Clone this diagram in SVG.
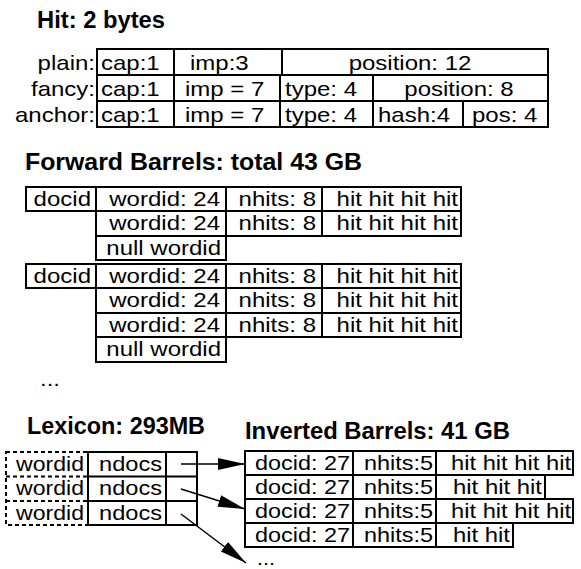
<svg xmlns="http://www.w3.org/2000/svg" width="581" height="569" viewBox="0 0 581 569">
<style>
.c{fill:none;stroke:#000;stroke-width:2}
.d{fill:none;stroke:#000;stroke-width:2;stroke-dasharray:4 3}
.t{font-family:"Liberation Sans",Arial,Helvetica,sans-serif;font-size:20.8px;fill:#000}
.e{text-anchor:end}
.m{text-anchor:middle}
.h{font-family:"Liberation Sans",Arial,Helvetica,sans-serif;font-size:23px;font-weight:bold;fill:#000}
.a{fill:none;stroke:#000;stroke-width:1.5}
</style>
<defs>
<marker id="ah" markerUnits="userSpaceOnUse" markerWidth="28" markerHeight="14" refX="27" refY="7" orient="auto">
<path d="M0,1 L27,7 L0,13 z" fill="#000"/>
</marker>
</defs>
<rect width="581" height="569" fill="#fff"/>

<g id="hit">
<text class="h" x="37" y="28" textLength="128" lengthAdjust="spacingAndGlyphs">Hit: 2 bytes</text>
<g id="hit-plain">
<text class="t e" x="95" y="70" textLength="57.4" lengthAdjust="spacingAndGlyphs">plain:</text>
<rect class="c" x="97" y="49" width="77" height="26"/>
<rect class="c" x="174" y="49" width="108" height="26"/>
<rect class="c" x="282" y="49" width="266" height="26"/>
<text class="t" x="101" y="70" textLength="58.7" lengthAdjust="spacingAndGlyphs">cap:1</text>
<text class="t" x="190" y="70" textLength="58.7" lengthAdjust="spacingAndGlyphs">imp:3</text>
<text class="t m" x="410" y="70" textLength="122.7" lengthAdjust="spacingAndGlyphs">position: 12</text>
</g>
<g id="hit-fancy">
<text class="t e" x="95" y="96" textLength="64" lengthAdjust="spacingAndGlyphs">fancy:</text>
<rect class="c" x="97" y="75" width="77" height="26"/>
<rect class="c" x="174" y="75" width="106" height="26"/>
<rect class="c" x="280" y="75" width="93" height="26"/>
<rect class="c" x="373" y="75" width="175" height="26"/>
<text class="t" x="101" y="96" textLength="58.7" lengthAdjust="spacingAndGlyphs">cap:1</text>
<text class="t" x="185" y="96" textLength="79.4" lengthAdjust="spacingAndGlyphs">imp = 7</text>
<text class="t" x="285" y="96" textLength="72" lengthAdjust="spacingAndGlyphs">type: 4</text>
<text class="t m" x="459" y="96" textLength="109.4" lengthAdjust="spacingAndGlyphs">position: 8</text>
</g>
<g id="hit-anchor">
<text class="t e" x="95" y="122" textLength="80" lengthAdjust="spacingAndGlyphs">anchor:</text>
<rect class="c" x="97" y="101" width="77" height="26"/>
<rect class="c" x="174" y="101" width="106" height="26"/>
<rect class="c" x="280" y="101" width="93" height="26"/>
<rect class="c" x="373" y="101" width="90" height="26"/>
<rect class="c" x="463" y="101" width="85" height="26"/>
<text class="t" x="101" y="122" textLength="58.7" lengthAdjust="spacingAndGlyphs">cap:1</text>
<text class="t" x="185" y="122" textLength="79.4" lengthAdjust="spacingAndGlyphs">imp = 7</text>
<text class="t" x="285" y="122" textLength="72" lengthAdjust="spacingAndGlyphs">type: 4</text>
<text class="t" x="378" y="122" textLength="72" lengthAdjust="spacingAndGlyphs">hash:4</text>
<text class="t" x="472" y="122" textLength="65.4" lengthAdjust="spacingAndGlyphs">pos: 4</text>
</g>
</g>

<g id="forward">
<text class="h" x="25" y="170" textLength="337" lengthAdjust="spacingAndGlyphs">Forward Barrels: total 43 GB</text>
<g id="fwd-doc1">
<rect class="c" x="26" y="187" width="70" height="24"/>
<text class="t e" x="91" y="206" textLength="57.4" lengthAdjust="spacingAndGlyphs">docid</text>
<rect class="c" x="96" y="187" width="130" height="24"/>
<rect class="c" x="226" y="187" width="96" height="24"/>
<rect class="c" x="322" y="187" width="139" height="24"/>
<text class="t e" x="220" y="206" textLength="110.7" lengthAdjust="spacingAndGlyphs">wordid: 24</text>
<text class="t e" x="316" y="206" textLength="77.4" lengthAdjust="spacingAndGlyphs">nhits: 8</text>
<text class="t e" x="458" y="206" textLength="121.4" lengthAdjust="spacingAndGlyphs">hit hit hit hit</text>
<rect class="c" x="96" y="211" width="130" height="25"/>
<rect class="c" x="226" y="211" width="96" height="25"/>
<rect class="c" x="322" y="211" width="139" height="25"/>
<text class="t e" x="220" y="230" textLength="110.7" lengthAdjust="spacingAndGlyphs">wordid: 24</text>
<text class="t e" x="316" y="230" textLength="77.4" lengthAdjust="spacingAndGlyphs">nhits: 8</text>
<text class="t e" x="458" y="230" textLength="121.4" lengthAdjust="spacingAndGlyphs">hit hit hit hit</text>
<rect class="c" x="96" y="236" width="130" height="24"/>
<text class="t e" x="221" y="255" textLength="114.7" lengthAdjust="spacingAndGlyphs">null wordid</text>
</g>
<g id="fwd-doc2">
<rect class="c" x="26" y="264" width="70" height="24"/>
<text class="t e" x="91" y="283" textLength="57.4" lengthAdjust="spacingAndGlyphs">docid</text>
<rect class="c" x="96" y="264" width="130" height="24"/>
<rect class="c" x="226" y="264" width="96" height="24"/>
<rect class="c" x="322" y="264" width="139" height="24"/>
<text class="t e" x="220" y="283" textLength="110.7" lengthAdjust="spacingAndGlyphs">wordid: 24</text>
<text class="t e" x="316" y="283" textLength="77.4" lengthAdjust="spacingAndGlyphs">nhits: 8</text>
<text class="t e" x="458" y="283" textLength="121.4" lengthAdjust="spacingAndGlyphs">hit hit hit hit</text>
<rect class="c" x="96" y="288" width="130" height="25"/>
<rect class="c" x="226" y="288" width="96" height="25"/>
<rect class="c" x="322" y="288" width="139" height="25"/>
<text class="t e" x="220" y="307" textLength="110.7" lengthAdjust="spacingAndGlyphs">wordid: 24</text>
<text class="t e" x="316" y="307" textLength="77.4" lengthAdjust="spacingAndGlyphs">nhits: 8</text>
<text class="t e" x="458" y="307" textLength="121.4" lengthAdjust="spacingAndGlyphs">hit hit hit hit</text>
<rect class="c" x="96" y="313" width="130" height="24"/>
<rect class="c" x="226" y="313" width="96" height="24"/>
<rect class="c" x="322" y="313" width="139" height="24"/>
<text class="t e" x="220" y="332" textLength="110.7" lengthAdjust="spacingAndGlyphs">wordid: 24</text>
<text class="t e" x="316" y="332" textLength="77.4" lengthAdjust="spacingAndGlyphs">nhits: 8</text>
<text class="t e" x="458" y="332" textLength="121.4" lengthAdjust="spacingAndGlyphs">hit hit hit hit</text>
<rect class="c" x="96" y="337" width="130" height="25"/>
<text class="t e" x="221" y="356" textLength="114.7" lengthAdjust="spacingAndGlyphs">null wordid</text>
</g>
<text class="t" x="40" y="386" textLength="20" lengthAdjust="spacingAndGlyphs">...</text>
</g>

<g id="lexicon">
<text class="h" x="27" y="434" textLength="178" lengthAdjust="spacingAndGlyphs">Lexicon: 293MB</text>
<rect class="d" x="6" y="452" width="82" height="73"/>
<line class="d" x1="6" y1="476.5" x2="88" y2="476.5"/>
<line class="d" x1="6" y1="501" x2="88" y2="501"/>
<rect class="c" x="88" y="452" width="109" height="73"/>
<line class="c" x1="166" y1="452" x2="166" y2="525"/>
<line class="c" x1="88" y1="476.5" x2="197" y2="476.5"/>
<line class="c" x1="88" y1="501" x2="197" y2="501"/>
<text class="t e" x="84" y="471" textLength="68" lengthAdjust="spacingAndGlyphs">wordid</text>
<text class="t e" x="84" y="495" textLength="68" lengthAdjust="spacingAndGlyphs">wordid</text>
<text class="t e" x="84" y="520" textLength="68" lengthAdjust="spacingAndGlyphs">wordid</text>
<text class="t e" x="162" y="471" textLength="63" lengthAdjust="spacingAndGlyphs">ndocs</text>
<text class="t e" x="162" y="495" textLength="63" lengthAdjust="spacingAndGlyphs">ndocs</text>
<text class="t e" x="162" y="520" textLength="63" lengthAdjust="spacingAndGlyphs">ndocs</text>
</g>

<g id="inverted">
<text class="h" x="245" y="439" textLength="265" lengthAdjust="spacingAndGlyphs">Inverted Barrels: 41 GB</text>
<rect class="c" x="245" y="451" width="108" height="24"/>
<rect class="c" x="353" y="451" width="83" height="24"/>
<rect class="c" x="436" y="451" width="137" height="24"/>
<rect class="c" x="245" y="475" width="108" height="24"/>
<rect class="c" x="353" y="475" width="83" height="24"/>
<rect class="c" x="436" y="475" width="109" height="24"/>
<rect class="c" x="245" y="499" width="108" height="24"/>
<rect class="c" x="353" y="499" width="83" height="24"/>
<rect class="c" x="436" y="499" width="137" height="24"/>
<rect class="c" x="245" y="523" width="108" height="24"/>
<rect class="c" x="353" y="523" width="83" height="24"/>
<rect class="c" x="436" y="523" width="77" height="24"/>
<text class="t e" x="350" y="470" textLength="95" lengthAdjust="spacingAndGlyphs">docid: 27</text>
<text class="t e" x="350" y="494" textLength="95" lengthAdjust="spacingAndGlyphs">docid: 27</text>
<text class="t e" x="350" y="518" textLength="95" lengthAdjust="spacingAndGlyphs">docid: 27</text>
<text class="t e" x="350" y="541.5" textLength="95" lengthAdjust="spacingAndGlyphs">docid: 27</text>
<text class="t e" x="433" y="470" textLength="69" lengthAdjust="spacingAndGlyphs">nhits:5</text>
<text class="t e" x="433" y="494" textLength="69" lengthAdjust="spacingAndGlyphs">nhits:5</text>
<text class="t e" x="433" y="518" textLength="69" lengthAdjust="spacingAndGlyphs">nhits:5</text>
<text class="t e" x="433" y="541.5" textLength="69" lengthAdjust="spacingAndGlyphs">nhits:5</text>
<text class="t e" x="571" y="470" textLength="120" lengthAdjust="spacingAndGlyphs">hit hit hit hit</text>
<text class="t e" x="542" y="494" textLength="89" lengthAdjust="spacingAndGlyphs">hit hit hit</text>
<text class="t e" x="571" y="518" textLength="120" lengthAdjust="spacingAndGlyphs">hit hit hit hit</text>
<text class="t e" x="510" y="541.5" textLength="57" lengthAdjust="spacingAndGlyphs">hit hit</text>
<text class="t" x="257" y="564.8" style="font-size:19px" textLength="18" lengthAdjust="spacingAndGlyphs">...</text>
</g>

<g id="connectors">
<line class="a" x1="181" y1="464" x2="245" y2="464" marker-end="url(#ah)"/>
<line class="a" x1="181" y1="489" x2="245" y2="509" marker-end="url(#ah)"/>
<line class="a" x1="181" y1="514" x2="246" y2="563" marker-end="url(#ah)"/>
</g>
</svg>
